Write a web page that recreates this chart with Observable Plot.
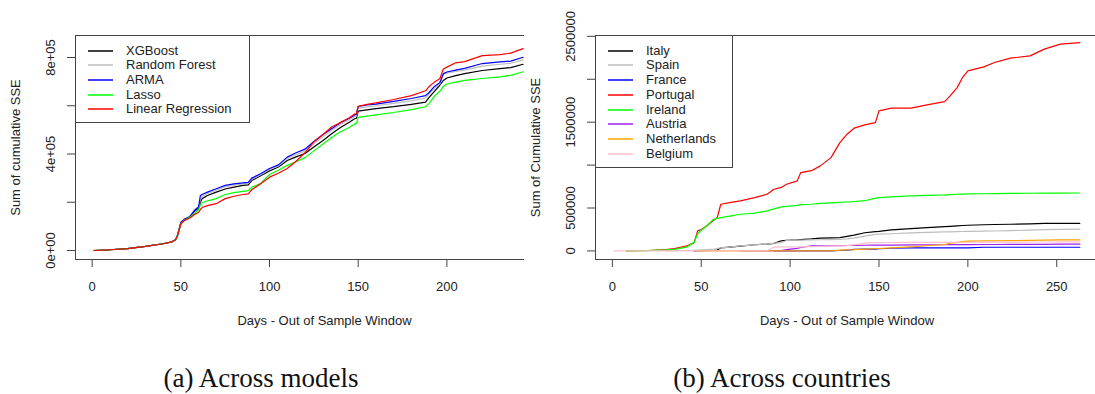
<!DOCTYPE html>
<html><head><meta charset="utf-8">
<script src="https://cdn.jsdelivr.net/npm/d3@7"></script>
<script src="https://cdn.jsdelivr.net/npm/@observablehq/plot@0.6"></script>
<style>
body{margin:0;background:#fff;}
#root{position:relative;width:1095px;height:394px;overflow:hidden;background:#fff;font-family:"Liberation Sans",Arial,sans-serif;color:#222;}
#left{position:absolute;left:0;top:0;width:524px;height:340px;overflow:hidden;}
#right{position:absolute;left:520px;top:0;width:575px;height:340px;overflow:hidden;}
.legend{position:absolute;border:1px solid #444;background:#fff;box-sizing:border-box;}
.row{position:absolute;left:0;height:14px;font-size:13px;line-height:14px;white-space:nowrap;}
.row .sw{position:absolute;left:12px;top:6px;width:25px;height:2px;opacity:0.75;}
.row .lb{position:absolute;left:50px;top:0;}
.cap{position:absolute;top:363px;font-family:"Liberation Serif","Times New Roman",serif;font-size:27px;line-height:30px;white-space:nowrap;transform:translateX(-50%);color:#111;}
</style></head>
<body>
<div id="root">
  <div id="left"></div>
  <div id="right"></div>
  <div class="legend" id="legL" style="left:75px;top:35px;width:175px;height:88px;"></div>
  <div class="legend" id="legR" style="left:595px;top:35px;width:138px;height:133px;"></div>
  <div class="cap" style="left:261px;">(a) Across models</div>
  <div class="cap" style="left:782px;">(b) Across countries</div>
</div>
<script>
// ---------- Panel (a): across models (values in thousands) ----------
const modelNames = ["XGBoost", "Random Forest", "ARMA", "Lasso", "Linear Regression"];
const modelColors = ["#000000", "#bebebe", "#0000ff", "#00ff00", "#ff0000"];
const leftDays = [1, 10, 20, 30, 40, 45, 47, 48, 50, 52, 55, 58, 60, 61, 62, 65, 70, 75, 80, 85, 88, 90, 95, 100, 105, 110, 115, 120, 125, 130, 135, 140, 145, 148, 149, 150, 155, 160, 170, 180, 188, 190, 193, 196, 198, 200, 205, 210, 220, 230, 236, 243];
const xgboostK = [0, 3, 8, 17, 28, 36, 45, 60, 112, 125, 138, 165, 175, 200, 215, 228, 242, 255, 263, 270, 272, 290, 310, 330, 346, 373, 388, 402, 429, 455, 484, 510, 532, 546, 548, 578, 583, 588, 596, 606, 615, 635, 660, 685, 705, 715, 725, 733, 746, 754, 758, 772];
const randomForestK = [0, 3, 8, 17, 28, 36, 46, 62, 115, 128, 142, 172, 180, 212, 225, 236, 250, 264, 271, 276, 279, 296, 314, 336, 351, 380, 397, 412, 442, 470, 497, 522, 542, 555, 558, 590, 595, 600, 610, 620, 632, 648, 672, 690, 730, 735, 742, 748, 764, 772, 776, 790];
const armaK = [0, 3, 8, 17, 28, 36, 45, 60, 117, 130, 140, 168, 180, 228, 232, 242, 256, 270, 276, 280, 282, 300, 318, 340, 355, 387, 405, 420, 452, 480, 505, 530, 548, 562, 565, 597, 603, 607, 618, 630, 642, 655, 680, 695, 733, 740, 748, 755, 775, 782, 785, 801];
const lassoK = [0, 3, 8, 17, 28, 36, 45, 60, 112, 125, 138, 155, 170, 188, 198, 206, 215, 232, 240, 245, 248, 262, 278, 315, 333, 353, 368, 385, 413, 440, 468, 492, 510, 524, 527, 552, 557, 562, 572, 584, 596, 610, 640, 660, 680, 690, 698, 705, 713, 720, 726, 741];
const linRegK = [0, 3, 8, 17, 28, 36, 45, 58, 110, 125, 135, 150, 159, 170, 178, 186, 194, 215, 225, 232, 235, 252, 277, 304, 320, 340, 370, 405, 450, 480, 512, 530, 550, 566, 568, 598, 606, 612, 626, 642, 662, 680, 698, 712, 752, 760, 778, 783, 808, 812, 818, 837];
const leftXTicks = [0, 50, 100, 150, 200];
const leftYTicks = [0, 200000, 400000, 600000, 800000];
const leftYLabelValues = [0, 400000, 800000];
const leftYLabels = ["0e+00", "4e+05", "8e+05"];

// ---------- Panel (b): across countries (values in thousands) ----------
const countryNames = ["Italy", "Spain", "France", "Portugal", "Ireland", "Austria", "Netherlands", "Belgium"];
const countryColors = ["#000000", "#bebebe", "#0000ff", "#ff0000", "#00ff00", "#a020f0", "#ffa500", "#ffc0cb"];
const rightDays = [1, 8, 20, 30, 35, 42, 46, 48, 50, 53, 57, 59, 61, 66, 72, 80, 87, 91, 95, 98, 104, 106, 112, 117, 123, 128, 132, 136, 142, 148, 150, 157, 168, 177, 187, 190, 194, 197, 200, 209, 215, 224, 235, 243, 252, 263];
const italyK = [null, null, null, null, null, null, 0, 0, 0, 2, 5, 10, 35, 45, 55, 72, 80, 88, 118, 124, 128, 132, 140, 150, 153, 155, 170, 185, 212, 225, 228, 245, 260, 272, 282, 286, 292, 296, 299, 305, 308, 311, 316, 320, 322, 322];
const spainK = [null, null, null, 0, 2, 5, 8, 10, 12, 15, 20, 28, 35, 45, 58, 70, 80, 90, 97, 122, 125, 126, 128, 130, 132, 133, 140, 150, 172, 192, 196, 200, 210, 215, 221, 222, 224, 226, 228, 230, 232, 236, 242, 248, 250, 253];
const franceK = [null, null, null, null, null, null, null, null, null, null, null, null, null, null, null, null, null, 0, 0, 0, 0, 0, 0, 0, 0, 5, 10, 19, 20, 22, 25, 31, 35, 35, 35, 35, 35, 35, 35, 43, 43, 43, 43, 43, 43, 43];
const portugalK = [null, 0, 5, 15, 27, 58, 97, 233, 250, 291, 357, 388, 544, 563, 583, 621, 660, 719, 740, 777, 816, 913, 935, 991, 1087, 1262, 1360, 1430, 1468, 1495, 1632, 1663, 1663, 1702, 1740, 1806, 1903, 2020, 2098, 2145, 2195, 2246, 2273, 2351, 2409, 2428];
const irelandK = [null, 0, 3, 12, 19, 47, 97, 200, 240, 291, 369, 380, 388, 405, 427, 440, 466, 490, 513, 520, 530, 540, 544, 555, 560, 565, 570, 575, 585, 615, 621, 630, 641, 648, 653, 656, 660, 662, 665, 666, 668, 670, 672, 673, 674, 675];
const austriaK = [null, null, null, null, null, null, null, null, null, null, null, null, null, null, 0, 0, 0, 2, 5, 15, 30, 40, 58, 58, 60, 62, 63, 64, 66, 67, 67, 68, 70, 71, 72, 73, 73, 74, 74, 75, 75, 76, 77, 77, 78, 78];
const netherlandsK = [null, null, null, null, null, null, null, 0, 0, 0, 0, 0, 0, 0, 0, 0, 0, 0, 0, 0, 0, 0, 0, 0, 0, 10, 12, 14, 20, 27, 28, 35, 47, 60, 75, 89, 100, 109, 114, 117, 118, 120, 122, 125, 128, 128];
const belgiumK = [0, 0, 0, 0, 0, 0, 0, 0, 0, 0, 0, 0, 0, 0, 0, 0, 0, 45, 47, 47, 48, 48, 50, 52, 55, 58, 62, 70, 90, 97, 97, 98, 99, 100, 100, 100, 101, 101, 101, 102, 102, 103, 104, 104, 105, 105];
const rightXTicks = [0, 50, 100, 150, 200, 250];
const rightYTicks = [0, 500000, 1000000, 1500000, 2000000, 2500000];
const rightYLabelValues = [0, 500000, 1500000, 2500000];
const rightYLabels = ["0", "500000", "1500000", "2500000"];

function buildRows(days, names, seriesList) {
  const out = [];
  seriesList.forEach((vals, s) => {
    vals.forEach((v, i) => { if (v != null) out.push({day: days[i], value: v * 1000, name: names[s]}); });
  });
  return out;
}
const leftRows = buildRows(leftDays, modelNames, [xgboostK, randomForestK, armaK, lassoK, linRegK]);
const rightRows = buildRows(rightDays, countryNames, [italyK, spainK, franceK, portugalK, irelandK, austriaK, netherlandsK, belgiumK]);

const baseStyle = {background: "none", maxWidth: "none", overflow: "visible", fontSize: "13px", fontFamily: "'Liberation Sans', Arial, sans-serif", color: "#222"};

function panel({width, marginRight, xDomain, yDomain, names, colors, rows, xTicks, yTicks, yLabelValues, yLabels, yTitle}) {
  return Plot.plot({
    width, height: 335, marginLeft: 75, marginRight, marginTop: 35, marginBottom: 76,
    style: baseStyle,
    x: {domain: xDomain},
    y: {domain: yDomain},
    color: {domain: names, range: colors},
    marks: [
      Plot.frame({stroke: "#444"}),
      Plot.axisX({ticks: xTicks, tickSize: 8, tickPadding: 14, label: null, fontSize: 13, stroke: "#444"}),
      Plot.axisY({ticks: yTicks, tickSize: 8, tickFormat: () => "", label: null, stroke: "#444"}),
      Plot.text(yLabelValues, {y: d => d, text: yLabels, frameAnchor: "left", textAnchor: "middle", lineAnchor: "middle", rotate: -90, dx: -25, fontSize: 13}),
      Plot.text([yTitle], {frameAnchor: "left", textAnchor: "middle", lineAnchor: "middle", rotate: -90, dx: -60, fontSize: 13}),
      Plot.text(["Days - Out of Sample Window"], {frameAnchor: "bottom", lineAnchor: "middle", dy: 61, fontSize: 13}),
      Plot.line(rows, {x: "day", y: "value", z: "name", stroke: "name", strokeWidth: 1.2})
    ]
  });
}

document.getElementById("left").appendChild(panel({
  width: 583, marginRight: 10, xDomain: [-9.4, 271.4], yDomain: [-37306, 891192],
  names: modelNames, colors: modelColors, rows: leftRows,
  xTicks: leftXTicks, yTicks: leftYTicks, yLabelValues: leftYLabelValues, yLabels: leftYLabels,
  yTitle: "Sum of cumulative SSE"
}));
document.getElementById("right").appendChild(panel({
  width: 580, marginRight: 2, xDomain: [-9.48, 273.5], yDomain: [-100000, 2510000],
  names: countryNames, colors: countryColors, rows: rightRows,
  xTicks: rightXTicks, yTicks: rightYTicks, yLabelValues: rightYLabelValues, yLabels: rightYLabels,
  yTitle: "Sum of Cumulative SSE"
}));

function legend(id, names, colors, step) {
  const el = document.getElementById(id);
  names.forEach((n, i) => {
    const r = document.createElement("div");
    r.className = "row";
    r.style.top = (7.7 + step * i) + "px";
    r.innerHTML = `<div class="sw" style="background:${colors[i]}"></div><div class="lb">${n}</div>`;
    el.appendChild(r);
  });
}
legend("legL", modelNames, modelColors, 14.6);
legend("legR", countryNames, countryColors, 14.7);
</script>
</body></html>
